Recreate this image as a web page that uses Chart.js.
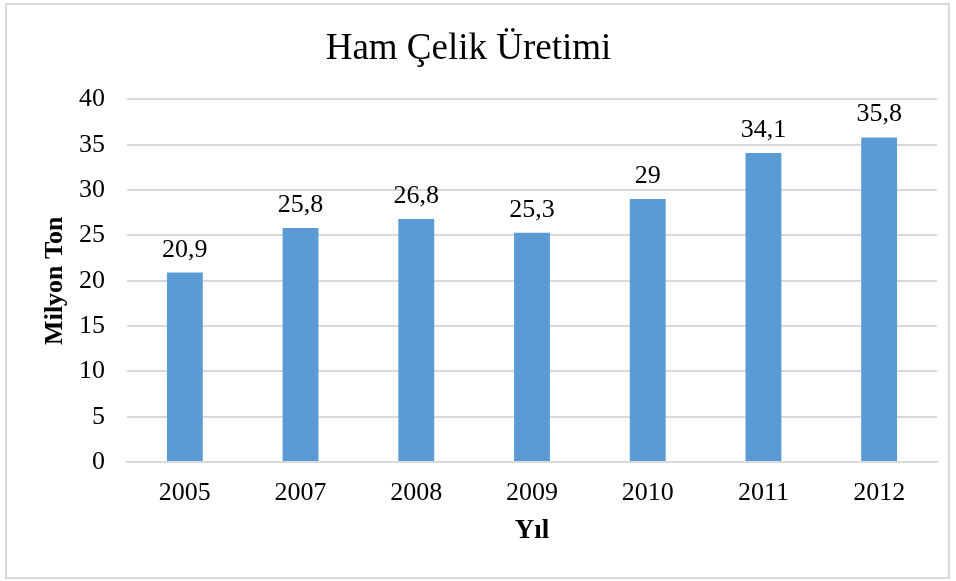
<!DOCTYPE html>
<html>
<head>
<meta charset="utf-8">
<script src="https://cdn.jsdelivr.net/npm/chart.js@4"></script>
<style>
  body { margin: 0; background: #fff; }
  #box { position: absolute; left: 0; top: 0; width: 956px; height: 581px; }
  #frame { position: absolute; left: 5px; top: 3px; width: 941px; height: 572px; border: 2px solid #d9d9d9; pointer-events: none; }
</style>
</head>
<body>
<div id="box">
  <canvas id="steelChart" width="956" height="581"></canvas>
  <div id="frame"></div>
</div>
<script>
var years = ['2005', '2007', '2008', '2009', '2010', '2011', '2012'];
var production = [20.9, 25.8, 26.8, 25.3, 29, 34.1, 35.8];
var yTicks = [0, 5, 10, 15, 20, 25, 30, 35, 40];

var serif = "'Liberation Serif', 'Times New Roman', serif";

// draws the value above each bar, with a comma as decimal mark
var barLabels = {
  id: 'barLabels',
  afterDatasetsDraw: function (chart) {
    var ctx = chart.ctx;
    var meta = chart.getDatasetMeta(0);
    ctx.save();
    ctx.font = '26px ' + serif;
    ctx.fillStyle = '#000';
    ctx.textAlign = 'center';
    ctx.textBaseline = 'alphabetic';
    meta.data.forEach(function (bar, i) {
      var txt = String(production[i]).replace('.', ',');
      ctx.fillText(txt, bar.x, bar.y - 16);
    });
    ctx.restore();
  }
};

function buildChart() {
  var ctx = document.getElementById('steelChart').getContext('2d');
  new Chart(ctx, {
    type: 'bar',
    data: {
      labels: years,
      datasets: [{
        label: 'Ham Çelik Üretimi',
        data: production,
        backgroundColor: '#5b9bd5',
        borderWidth: 0,
        categoryPercentage: 1,
        barPercentage: 0.31
      }]
    },
    options: {
      responsive: false,
      animation: false,
      layout: { padding: { left: 0, right: 19, top: 27, bottom: 0 } },
      plugins: {
        legend: { display: false },
        tooltip: { enabled: false },
        title: {
          display: true,
          text: 'Ham Çelik Üretimi',
          color: '#000',
          font: { family: serif, size: 37, weight: 'normal' },
          padding: { top: 0, bottom: 28 }
        }
      },
      scales: {
        x: {
          afterFit: function (axis) { axis.height = 119; },
          grid: { display: false },
          border: { color: '#d9d9d9', width: 2 },
          ticks: { color: '#000', font: { family: serif, size: 26 }, padding: 8 },
          title: {
            display: true,
            text: 'Yıl',
            color: '#000',
            font: { family: serif, size: 27, weight: 'bold' },
            padding: { bottom: 34 }
          }
        },
        y: {
          min: 0,
          max: 40,
          afterBuildTicks: function (axis) {
            axis.ticks = yTicks.map(function (v) { return { value: v }; });
          },
          afterFit: function (axis) { axis.width = 127; },
          grid: { color: '#d9d9d9', lineWidth: 2, drawTicks: false },
          border: { display: false },
          ticks: { color: '#000', font: { family: serif, size: 26 }, padding: 22 },
          title: {
            display: true,
            text: 'Milyon Ton',
            color: '#000',
            font: { family: serif, size: 26, weight: 'bold' },
            padding: { top: 40 }
          }
        }
      }
    },
    plugins: [barLabels]
  });
}

buildChart();
</script>
</body>
</html>
